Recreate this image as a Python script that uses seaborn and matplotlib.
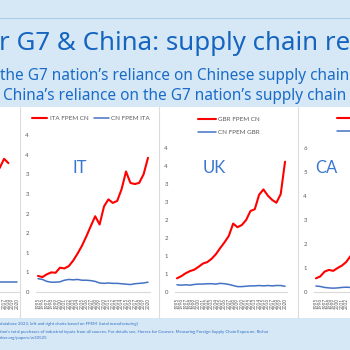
import numpy as np
import pandas as pd
import seaborn as sns
import matplotlib.pyplot as plt

# ---- data ----
years = list(range(1995, 2021))

# left panel (only the last years are visible in the crop)
left_years = [2015, 2016, 2017, 2018]
left_red = [3.30, 3.45, 3.70, 3.58]
left_blue_years = [2015, 2016, 2017, 2018, 2019, 2020]
left_blue = [0.28, 0.28, 0.28, 0.28, 0.28, 0.28]

# Italy
ita_fpem_cn = [0.41, 0.38, 0.45, 0.50, 0.49, 0.62, 0.60, 0.66, 0.80, 0.98,
               1.18, 1.42, 1.68, 1.93, 1.72, 2.18, 2.36, 2.27, 2.32, 2.62,
               3.07, 2.78, 2.75, 2.78, 3.00, 3.42]
cn_fpem_ita = [0.34, 0.32, 0.27, 0.25, 0.25, 0.26, 0.30, 0.32, 0.31, 0.32,
               0.30, 0.30, 0.29, 0.27, 0.23, 0.22, 0.23, 0.22, 0.22, 0.21,
               0.20, 0.19, 0.21, 0.22, 0.23, 0.25]

# UK
gbr_fpem_cn = [0.38, 0.44, 0.52, 0.58, 0.62, 0.70, 0.79, 0.83, 0.92, 1.05,
               1.22, 1.38, 1.56, 1.90, 1.80, 1.86, 2.00, 2.25, 2.30, 2.70,
               2.85, 2.68, 2.56, 2.48, 2.72, 3.62]
cn_fpem_gbr = [0.20, 0.19, 0.20, 0.19, 0.21, 0.22, 0.22, 0.23, 0.23, 0.22,
               0.24, 0.23, 0.21, 0.18, 0.15, 0.15, 0.16, 0.17, 0.17, 0.18,
               0.17, 0.18, 0.17, 0.18, 0.18, 0.16]

# Canada (only the first years are visible in the crop)
ca_years = [1995, 1996, 1997, 1998, 1999, 2000, 2001, 2002, 2003]
can_fpem_cn = [0.57, 0.65, 0.85, 0.92, 0.88, 1.00, 1.10, 1.25, 1.50]
cn_fpem_can = [0.25, 0.23, 0.19, 0.17, 0.16, 0.17, 0.19, 0.20, 0.19]

tick_labels_4 = ["0", "1", "1", "2", "2", "3", "3", "4", "4"]
tick_labels_6 = ["0", "1", "2", "3", "4", "5", "6"]

title = "r G7 & China: supply chain re"
sub1 = "the G7 nation\u2019s reliance on Chinese supply chain"
sub2 = "China\u2019s reliance on the G7 nation\u2019s supply chain"
foot1 = "database 2023, left and right charts based on FPEM  (total manufacturing)"
foot2 = ("tion\u2019s total purchases of industrial inputs from all sources. For details see, "
         "Horses for Courses: Measuring Foreign Supply Chain Exposure, Richar")
foot3 = "nber.org/papers/w30525"

RED = "#ff0000"
BLUE = "#4472c4"
GREY = "#595959"
BG = "#d6e8f5"

sns.set_theme(style="white")
plt.rcParams['font.family'] = ['Lato', 'DejaVu Sans']

W = 350.0
fig = plt.figure(figsize=(3.5, 3.5), dpi=100)
fig.patch.set_facecolor(BG)


def fx(px):
    return px / W


def fy(py):
    return 1 - py / W


# white band with the charts
fig.patches.append(plt.Rectangle((0, fy(318)), 1, fy(107) - fy(318), transform=fig.transFigure,
                                 facecolor="white", edgecolor="none", zorder=-2))
for sx in [19.5, 158.5, 297.5]:
    fig.add_artist(plt.Line2D([fx(sx), fx(sx)], [fy(318), fy(107)], transform=fig.transFigure,
                              color="#dcdcdc", lw=0.8, zorder=-1))
fig.add_artist(plt.Line2D([0, 1], [fy(18), fy(18)], transform=fig.transFigure,
                          color="#a9cde9", lw=0.8, zorder=-1))

# titles
fig.text(fx(-1), fy(50), title, fontsize=18.6, color="#1565c0", family=['Noto Sans', 'DejaVu Sans'],
         va="baseline")
fig.text(fx(0), fy(80.5), sub1, fontsize=11.1, color="#1a6cc8", family=['Noto Sans', 'DejaVu Sans'],
         va="baseline")
fig.text(fx(3), fy(100), sub2, fontsize=11.1, color="#1a6cc8", family=['Noto Sans', 'DejaVu Sans'],
         va="baseline")

for yy, txt in [(325, foot1), (333.5, foot2), (338.5, foot3)]:
    fig.text(fx(0), fy(yy), txt, fontsize=3.1, color="#2f6fc6", va="baseline")


def make_axes(left, right, top, bottom=292):
    ax = fig.add_axes([fx(left), fy(bottom), fx(right) - fx(left), fy(top) - fy(bottom)])
    ax.set_facecolor("none")
    return ax


def style(ax, ymax, labels, shown):
    ax.set_xlim(1994.5, 2020.5)
    ax.set_ylim(0, ymax)
    step = ymax / (len(labels) - 1)
    ax.set_yticks([i * step for i in range(len(labels))])
    ax.set_yticklabels(labels, fontsize=4.3, color=GREY)
    ax.set_xticks(shown)
    ax.set_xticklabels([str(y) for y in shown], rotation=90, fontsize=3.4, color=GREY)
    ax.tick_params(length=0, pad=5)
    ax.tick_params(axis="x", pad=4)
    for s in ["top", "right", "left"]:
        ax.spines[s].set_visible(False)
    ax.spines["bottom"].set_color("#d9d9d9")
    ax.spines["bottom"].set_linewidth(0.8)
    ax.set_xlabel("")
    ax.set_ylabel("")


# left panel (cut off)
ax0 = make_axes(-93.1, 19.2, 148)
sns.lineplot(x=left_years, y=left_red, ax=ax0, color=RED, linewidth=1.5)
sns.lineplot(x=left_blue_years, y=left_blue, ax=ax0, color=BLUE, linewidth=1.1)
style(ax0, 4, tick_labels_4, [2016, 2017, 2018, 2019, 2020])
ax0.set_yticklabels([])

# IT
ax1 = make_axes(35.8, 150.2, 135)
sns.lineplot(x=years, y=ita_fpem_cn, ax=ax1, color=RED, linewidth=1.5, label="ITA FPEM CN")
sns.lineplot(x=years, y=cn_fpem_ita, ax=ax1, color=BLUE, linewidth=1.1, label="CN FPEM ITA")
style(ax1, 4, tick_labels_4, years)
ax1.legend(loc="center", bbox_to_anchor=(fx(91), fy(118)), bbox_transform=fig.transFigure,
           ncol=2, frameon=False, fontsize=4.5, handlelength=2.4, columnspacing=0.8,
           handletextpad=0.4, labelcolor=GREY)
ax1.text(fx(72), fy(168), "IT", transform=fig.transFigure, fontsize=12, color="#3a78d0",
         va="center")

# UK
ax2 = make_axes(174.8, 287.2, 148)
sns.lineplot(x=years, y=gbr_fpem_cn, ax=ax2, color=RED, linewidth=1.5, label="GBR FPEM CN")
sns.lineplot(x=years, y=cn_fpem_gbr, ax=ax2, color=BLUE, linewidth=1.1, label="CN FPEM GBR")
style(ax2, 4, tick_labels_4, years)
ax2.legend(loc="center", bbox_to_anchor=(fx(229), fy(126)), bbox_transform=fig.transFigure,
           ncol=1, frameon=False, fontsize=4.5, handlelength=2.9, labelspacing=1.2,
           handletextpad=0.4, labelcolor=GREY)
ax2.text(fx(203), fy(168), "UK", transform=fig.transFigure, fontsize=12, color="#3a78d0",
         va="center")

# CA (cut off)
ax3 = make_axes(313.8, 426.2, 148)
sns.lineplot(x=ca_years, y=can_fpem_cn, ax=ax3, color=RED, linewidth=1.5, label="CAN FPEM CN")
sns.lineplot(x=ca_years, y=cn_fpem_can, ax=ax3, color=BLUE, linewidth=1.1, label="CN FPEM CAN")
style(ax3, 6, tick_labels_6, ca_years[:8])
ax3.legend(loc="center left", bbox_to_anchor=(fx(337), fy(125)), bbox_transform=fig.transFigure,
           ncol=1, frameon=False, fontsize=4.5, handlelength=2.9, labelspacing=1.2,
           handletextpad=0.4, labelcolor=GREY, borderaxespad=0, borderpad=0)
ax3.text(fx(315), fy(168), "CA", transform=fig.transFigure, fontsize=12, color="#3a78d0",
         va="center")

fig.savefig("out.png", dpi=100, facecolor=BG)
